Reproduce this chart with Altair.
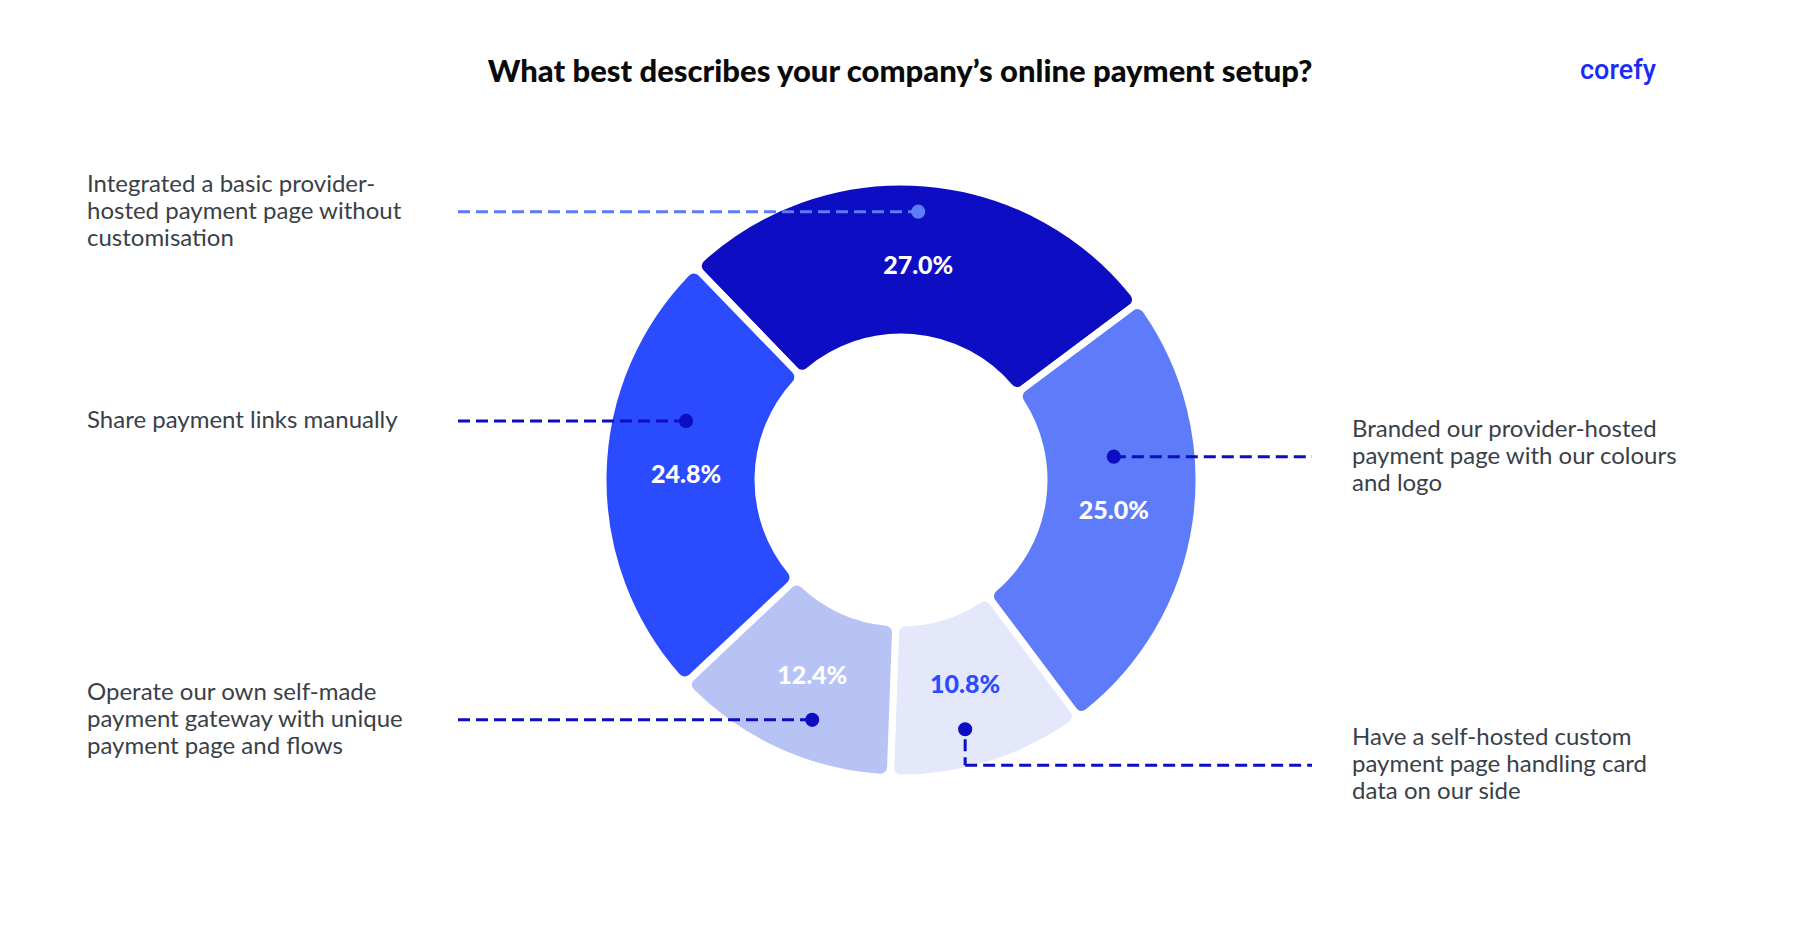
import altair as alt
import pandas as pd

# ---------------- data ----------------
categories = [
    "Integrated a basic provider-\nhosted payment page without\ncustomisation",
    "Branded our provider-hosted\npayment page with our colours\nand logo",
    "Have a self-hosted custom\npayment page handling card\ndata on our side",
    "Operate our own self-made\npayment gateway with unique\npayment page and flows",
    "Share payment links manually",
]
shares = [27.0, 25.0, 10.8, 12.4, 24.8]
pct_labels = ["27.0%", "25.0%", "10.8%", "12.4%", "24.8%"]
title_text = "What best describes your company\u2019s online payment setup?"
logo_text = "corefy"

# ---------------- styles / layout ----------------
slice_colors = ["#0D0DC3", "#5E7BFA", "#E5E8FA", "#B8C3F5", "#2B4BFF"]
pct_colors = ["#FFFFFF", "#FFFFFF", "#2B4BFF", "#FFFFFF", "#FFFFFF"]
marker_colors = ["#5E7BFA", "#0D0DC3", "#0D0DC3", "#0D0DC3", "#0D0DC3"]
sides = ["left", "right", "right", "left", "left"]

W, H = 1784, 920
CX, CY = 893, 472
R_IN, R_OUT = 143, 298
R_LAB = 215
DOT_UP, DOT_DOWN = 54, 44
BEND_DROP = 36
START = -0.768  # rotation of the first slice start (radians)
LEFT_LINE_X, RIGHT_LINE_X = 450, 1304
LEFT_TEXT_X, RIGHT_TEXT_X = 79, 1344
LH = 27
FONT = "Lato"
TXT_COL = "#3A3F48"

df = pd.DataFrame({
    "idx": list(range(len(shares))),
    "label": categories,
    "share": shares,
    "pct": pct_labels,
    "slice_color": slice_colors,
    "pct_color": pct_colors,
    "marker_color": marker_colors,
    "side": sides,
    "nlines": [c.count("\n") + 1 for c in categories],
})

xs = alt.Scale(domain=[0, W], range=[0, W])
ys = alt.Scale(domain=[0, H], range=[0, H])
theta_scale = alt.Scale(domain=[0, 100], range=[START, START + 2 * 3.141592653589793])

base = alt.Chart(df)

arcs = base.mark_arc(
    innerRadius=R_IN, outerRadius=R_OUT, cornerRadius=10,
    stroke="white", strokeWidth=7,
).encode(
    theta=alt.Theta("share:Q", stack=True, scale=theta_scale),
    order=alt.Order("idx:Q"),
    color=alt.Color("slice_color:N", scale=None),
    x=alt.value(CX), y=alt.value(CY),
)

pct = base.mark_text(
    font=FONT, fontSize=25, fontWeight=900, align="center", baseline="middle",
).encode(
    theta=alt.Theta("share:Q", stack=True, scale=theta_scale),
    order=alt.Order("idx:Q"),
    radius=alt.value(R_LAB),
    text="pct:N",
    color=alt.Color("pct_color:N", scale=None),
    x=alt.value(CX), y=alt.value(CY),
)

geo = base.transform_window(
    cum="sum(share)", sort=[alt.SortField("idx", order="ascending")], frame=[None, 0]
).transform_calculate(
    mid=f"{START} + (datum.cum - datum.share / 2) / 100 * 2 * PI"
).transform_calculate(
    px=f"{CX} + {R_LAB} * sin(datum.mid)",
    py=f"{CY} - {R_LAB} * cos(datum.mid)",
    lower="cos(datum.mid) < -0.6",
).transform_calculate(
    dot_y=f"datum.py + (datum.lower ? {DOT_DOWN} : -{DOT_UP})"
).transform_calculate(
    line_y=f"datum.dot_y + (datum.lower && datum.side == 'right' ? {BEND_DROP} : 0)",
    bend_y0="datum.dot_y + 10",
    line_x0=f"datum.side == 'left' ? {LEFT_LINE_X} : datum.px",
    line_x1=f"datum.side == 'left' ? datum.px : {RIGHT_LINE_X}",
    text_x=f"datum.side == 'left' ? {LEFT_TEXT_X} : {RIGHT_TEXT_X}",
).transform_calculate(
    text_y=f"datum.line_y - (datum.nlines - 1) * {LH} / 2",
)

leaders = geo.mark_rule(strokeWidth=3, strokeDash=[12, 6]).encode(
    x=alt.X("line_x0:Q", scale=xs, axis=None),
    x2="line_x1:Q",
    y=alt.Y("line_y:Q", scale=ys, axis=None),
    color=alt.Color("marker_color:N", scale=None),
)

bends = geo.transform_filter("datum.line_y > datum.dot_y").mark_rule(
    strokeWidth=3, strokeDash=[12, 6]
).encode(
    x=alt.X("px:Q", scale=xs, axis=None),
    y=alt.Y("bend_y0:Q", scale=ys, axis=None),
    y2="line_y:Q",
    color=alt.Color("marker_color:N", scale=None),
)

dots = geo.mark_circle(size=200, opacity=1).encode(
    x=alt.X("px:Q", scale=xs, axis=None),
    y=alt.Y("dot_y:Q", scale=ys, axis=None),
    color=alt.Color("marker_color:N", scale=None),
)

side_labels = geo.mark_text(
    font=FONT, fontSize=24, align="left", baseline="middle",
    lineBreak="\n", lineHeight=LH, color=TXT_COL,
).encode(
    x=alt.X("text_x:Q", scale=xs, axis=None),
    y=alt.Y("text_y:Q", scale=ys, axis=None),
    text="label:N",
)

title = alt.Chart(pd.DataFrame({"t": [title_text]})).mark_text(
    font=FONT, fontSize=31, fontWeight=900, color="#0A0A0A",
    align="center", baseline="middle",
).encode(text="t:N", x=alt.value(892), y=alt.value(65))

logo = alt.Chart(pd.DataFrame({"t": [logo_text]})).mark_text(
    font="Roboto", fontSize=27, fontWeight=500, color="#1A2BF5",
    align="center", baseline="middle",
).encode(text="t:N", x=alt.value(1610), y=alt.value(63))

chart = alt.layer(arcs, pct, leaders, bends, dots, side_labels, title, logo).properties(
    width=W, height=H, padding=0,
    autosize=alt.AutoSizeParams(type="fit", contains="padding"),
).configure_view(stroke=None)

chart.save("out.html", embed_options={"renderer": "svg", "actions": False})
